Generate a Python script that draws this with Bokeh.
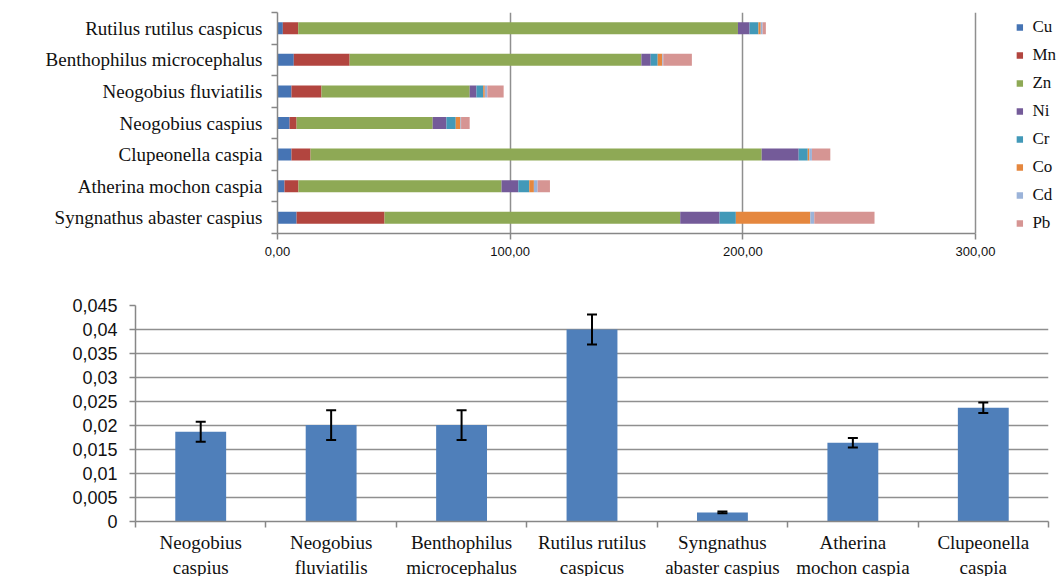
from bokeh.plotting import figure
from bokeh.models import (ColumnDataSource, FixedTicker, Range1d, Legend,
                          LegendItem, Whisker, TeeHead)
from bokeh.embed import file_html
from bokeh.resources import INLINE

# ---- heavy-metal content by species (stacked horizontal bars) ----
species_top = [
    "Rutilus rutilus caspicus",
    "Benthophilus microcephalus",
    "Neogobius fluviatilis",
    "Neogobius caspius",
    "Clupeonella caspia",
    "Atherina mochon caspia",
    "Syngnathus abaster caspius",
]
metals = ["Cu", "Mn", "Zn", "Ni", "Cr", "Co", "Cd", "Pb"]
Cu = [2.3, 7.0, 6.0, 5.2, 6.0, 3.0, 8.2]
Mn = [6.6, 24.0, 12.9, 3.0, 8.2, 6.0, 37.8]
Zn = [189.0, 125.4, 63.7, 58.5, 193.9, 87.3, 127.1]
Ni = [5.0, 4.0, 2.9, 5.9, 15.9, 7.2, 16.9]
Cr = [3.8, 3.0, 2.9, 4.0, 3.9, 4.7, 7.0]
Co = [1.0, 2.0, 0.7, 2.0, 0.7, 2.0, 32.0]
Cd = [0.8, 0.4, 1.1, 0.3, 1.1, 1.6, 1.7]
Pb = [1.4, 12.3, 7.0, 3.7, 7.9, 5.3, 25.9]
x_ticks_top = [0, 100, 200, 300]
x_tick_labels_top = ["0,00", "100,00", "200,00", "300,00"]

# ---- mean value per species with error (vertical bars) ----
species_bottom = [
    "Neogobius\ncaspius",
    "Neogobius\nfluviatilis",
    "Benthophilus\nmicrocephalus",
    "Rutilus rutilus\ncaspicus",
    "Syngnathus\nabaster caspius",
    "Atherina\nmochon caspia",
    "Clupeonella\ncaspia",
]
mean_value = [0.0187, 0.0201, 0.0201, 0.0400, 0.0019, 0.0164, 0.0237]
error_value = [0.0021, 0.0031, 0.0031, 0.0031, 0.0002, 0.0010, 0.0011]
y_ticks_bottom = [0, 0.005, 0.01, 0.015, 0.02, 0.025, 0.03, 0.035, 0.04, 0.045]
y_tick_labels_bottom = ["0", "0,005", "0,01", "0,015", "0,02", "0,025",
                        "0,03", "0,035", "0,04", "0,045"]

colors = ["#4674b4", "#b2453f", "#8ea955", "#745b99", "#4299b8",
          "#e5873e", "#9bb3d9", "#d69593"]

AXIS = "#878787"
GRID = "#8f8f8f"
SERIF = "Liberation Serif"
SANS = "Liberation Sans"

# ======================= top chart =======================
# the frame runs on past the 300 mark so the key can sit at its right
n = len(species_top)
ypos = [n - 1 - i + 0.5 for i in range(n)]
src = ColumnDataSource(dict(y=ypos, Cu=Cu, Mn=Mn, Zn=Zn, Ni=Ni, Cr=Cr,
                            Co=Co, Cd=Cd, Pb=Pb))

x_end = 300 * 784 / 698
p = figure(x_range=Range1d(0, x_end), y_range=Range1d(0, n),
           width=1061, height=280, frame_width=784, frame_height=221,
           min_border_left=277, min_border_right=0,
           min_border_top=12, min_border_bottom=47,
           output_backend="svg", toolbar_location=None)
p.outline_line_color = None
p.background_fill_color = "white"
p.border_fill_color = "white"

bars = p.hbar_stack(metals, y="y", height=0.38, color=colors,
                    line_color=None, source=src)

p.xaxis.bounds = (0, 300)
p.xaxis.ticker = FixedTicker(ticks=x_ticks_top)
p.xaxis.major_label_overrides = dict(zip(x_ticks_top, x_tick_labels_top))
p.xaxis.axis_line_color = AXIS
p.xaxis.axis_line_width = 1.5
p.xaxis.major_tick_line_color = AXIS
p.xaxis.major_tick_line_width = 1.5
p.xaxis.major_tick_in = 0
p.xaxis.major_tick_out = 6
p.xaxis.minor_tick_line_color = None
p.xaxis.major_label_text_font = SANS
p.xaxis.major_label_text_font_size = "13px"
p.xaxis.major_label_text_color = "#111111"
p.xaxis.major_label_standoff = 7

p.yaxis.ticker = FixedTicker(ticks=ypos, minor_ticks=list(range(n + 1)))
p.yaxis.major_label_overrides = dict(zip(ypos, species_top))
p.yaxis.axis_line_color = AXIS
p.yaxis.axis_line_width = 1.5
p.yaxis.major_tick_line_color = None
p.yaxis.major_tick_in = 0
p.yaxis.major_tick_out = 6
p.yaxis.minor_tick_line_color = AXIS
p.yaxis.minor_tick_line_width = 1.5
p.yaxis.minor_tick_in = 0
p.yaxis.minor_tick_out = 6
p.yaxis.major_label_text_font = SERIF
p.yaxis.major_label_text_font_size = "19px"
p.yaxis.major_label_text_color = "#111111"
p.yaxis.major_label_standoff = 9

p.xgrid.ticker = FixedTicker(ticks=x_ticks_top)
p.xgrid.grid_line_color = GRID
p.xgrid.grid_line_width = 1.5
p.ygrid.grid_line_color = None

legend = Legend(items=[LegendItem(label=m, renderers=[r])
                       for m, r in zip(metals, bars)],
                location="top_right", orientation="vertical",
                glyph_width=8, glyph_height=8, label_height=8,
                spacing=8, padding=0, margin=5, label_standoff=9,
                border_line_color=None, background_fill_alpha=0,
                label_text_font=SERIF, label_text_font_size="17px",
                label_text_color="#111111")
p.add_layout(legend, "center")

# ======================= bottom chart =======================
m = len(species_bottom)
xpos = [i + 0.5 for i in range(m)]
src2 = ColumnDataSource(dict(
    x=xpos, mean=mean_value,
    upper=[a + b for a, b in zip(mean_value, error_value)],
    lower=[a - b for a, b in zip(mean_value, error_value)]))

q = figure(x_range=Range1d(0, m), y_range=Range1d(0, 0.045),
           width=1061, height=296, frame_width=913, frame_height=216,
           min_border_left=135, min_border_right=13,
           min_border_top=25, min_border_bottom=55,
           output_backend="svg", toolbar_location=None)
q.outline_line_color = None
q.background_fill_color = "white"
q.border_fill_color = "white"

q.vbar(x="x", top="mean", width=0.39, color="#4f7fba", line_color=None,
       source=src2)
q.add_layout(Whisker(base="x", upper="upper", lower="lower", source=src2,
                     level="annotation", line_color="black", line_width=2,
                     upper_head=TeeHead(size=10, line_color="black", line_width=2),
                     lower_head=TeeHead(size=10, line_color="black", line_width=2)))

q.yaxis.ticker = FixedTicker(ticks=y_ticks_bottom)
q.yaxis.major_label_overrides = dict(zip(y_ticks_bottom, y_tick_labels_bottom))
q.yaxis.axis_line_color = AXIS
q.yaxis.axis_line_width = 1.5
q.yaxis.major_tick_line_color = AXIS
q.yaxis.major_tick_line_width = 1.5
q.yaxis.major_tick_in = 0
q.yaxis.major_tick_out = 6
q.yaxis.minor_tick_line_color = None
q.yaxis.major_label_text_font = SANS
q.yaxis.major_label_text_font_size = "18px"
q.yaxis.major_label_text_color = "#111111"
q.yaxis.major_label_standoff = 12

q.xaxis.ticker = FixedTicker(ticks=xpos, minor_ticks=list(range(m + 1)))
q.xaxis.major_label_overrides = dict(zip(xpos, species_bottom))
q.xaxis.axis_line_color = AXIS
q.xaxis.axis_line_width = 1.5
q.xaxis.major_tick_line_color = None
q.xaxis.major_tick_in = 0
q.xaxis.major_tick_out = 6
q.xaxis.minor_tick_line_color = AXIS
q.xaxis.minor_tick_line_width = 1.5
q.xaxis.minor_tick_in = 0
q.xaxis.minor_tick_out = 6
q.xaxis.major_label_text_font = SERIF
q.xaxis.major_label_text_font_size = "19px"
q.xaxis.major_label_text_color = "#111111"
q.xaxis.major_label_standoff = 4

q.ygrid.ticker = FixedTicker(ticks=y_ticks_bottom)
q.ygrid.grid_line_color = GRID
q.ygrid.grid_line_width = 1.5
q.xgrid.grid_line_color = None

open("out.html", "w").write(file_html([p, q], INLINE))
